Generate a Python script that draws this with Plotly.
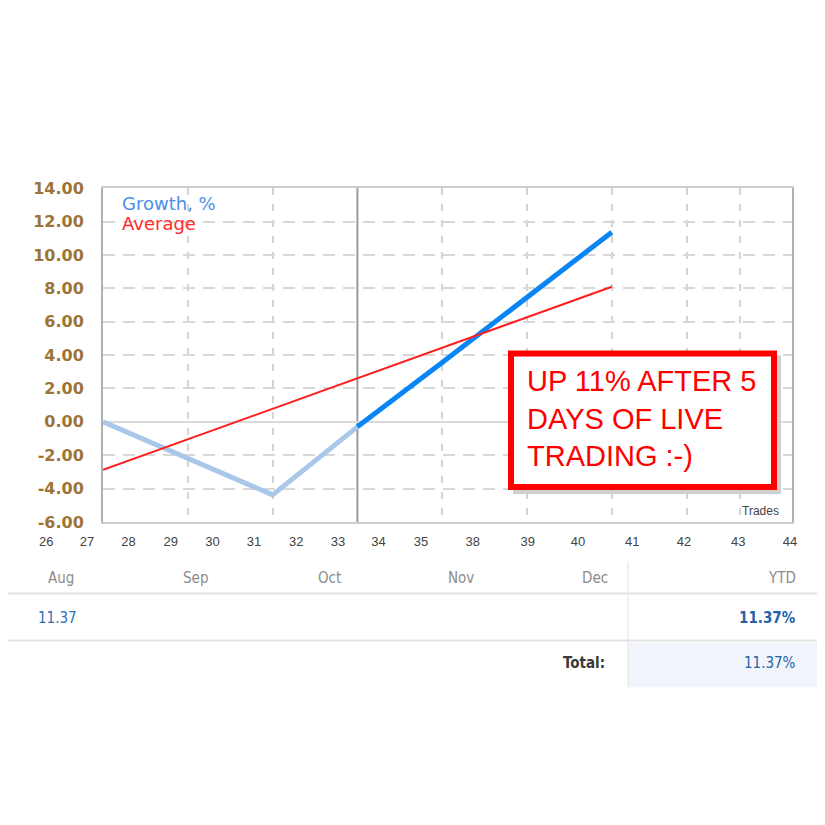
import plotly.graph_objects as go

# growth curve, x in trade steps
growth_x = [0, 2, 3, 4, 6]
growth_y = [0.0, -4.38, -0.3, 3.55, 11.37]
live_from = 2  # index where live trading starts

average_x = [0, 6]
average_y = [-2.88, 8.1]

y_ticks = [-6, -4, -2, 0, 2, 4, 6, 8, 10, 12, 14]
y_tick_labels = ["-6.00", "-4.00", "-2.00", "0.00", "2.00", "4.00",
                 "6.00", "8.00", "10.00", "12.00", "14.00"]

x_tick_labels = ["25", "26", "27", "28", "29", "30", "31", "32", "33",
                 "34", "35", "38", "39", "40", "41", "42", "43", "44"]

months = ["Aug", "Sep", "Oct", "Nov", "Dec"]
month_values = ["11.37", "", "", "", ""]
ytd_value = "11.37%"
total_value = "11.37%"

note_text = "UP 11% AFTER 5<br>DAYS OF LIVE<br>TRADING :-)"

# ---- layout helpers (screen pixel -> paper) ----
W = H = 825
OFF_X = 8          # page body margin
OFF_Y, SCALE_Y = 15, 0.981  # measured vertical placement of the page
STEP = 84.8  # px per trade step
LEFT, RIGHT, TOP, BOTTOM = 103, 792, 187, 522


def px(x):
    return (x - OFF_X) / W


def py(y):
    return 1 - (y - OFF_Y) / SCALE_Y / H


grid_x = [1, 2, 4, 5, 6, 6.89, 7.51]
label_pos = [-1.19, -0.67, -0.19, 0.30, 0.80, 1.29, 1.78, 2.28, 2.77,
             3.25, 3.75, 4.36, 5.01, 5.60, 6.24, 6.85, 7.49, 8.10]
month_px = [61, 195, 329, 461, 595]

fig = go.Figure()
fig.add_trace(go.Scatter(x=growth_x[:live_from + 1], y=growth_y[:live_from + 1],
                         mode="lines", line=dict(color="#a9c7e8", width=5),
                         hoverinfo="skip"))
fig.add_trace(go.Scatter(x=growth_x[live_from:], y=growth_y[live_from:],
                         mode="lines", line=dict(color="#0a86f4", width=5),
                         hoverinfo="skip"))
fig.add_trace(go.Scatter(x=average_x, y=average_y, mode="lines",
                         line=dict(color="#ff1e1e", width=2), hoverinfo="skip"))
# empty trace just to carry the wide label axis
fig.add_trace(go.Scatter(x=[], y=[], xaxis="x2", yaxis="y2", hoverinfo="skip"))

fig.update_layout(
    width=W, height=H,
    margin=dict(l=0, r=0, t=0, b=0),
    paper_bgcolor="white",
    plot_bgcolor="rgba(0,0,0,0)",
    showlegend=False,
    xaxis=dict(domain=[px(LEFT), px(RIGHT)], range=[0, (RIGHT - LEFT) / STEP],
               tickvals=grid_x, showticklabels=False, ticks="",
               showgrid=True, gridcolor="#d4d4d4", griddash="7px,9px", gridwidth=1.5,
               zeroline=False, showline=True, linecolor="#cccccc", linewidth=2,
               mirror=True),
    yaxis=dict(domain=[py(BOTTOM), py(TOP)], range=[-6, 14],
               tickvals=y_ticks, ticktext=y_tick_labels, ticks="",
               tickfont=dict(family="DejaVu Sans", size=16, color="#9c7437",
                             weight="bold"),
               ticklabelstandoff=14,
               showgrid=True, gridcolor="#d8d8d8", griddash="12px,8px", gridwidth=1.5,
               zeroline=True, zerolinecolor="#dadada", zerolinewidth=2,
               showline=True, linecolor="#b0b0b0", linewidth=2, mirror=True),
    xaxis2=dict(domain=[0, 1], anchor="y2",
                range=[(OFF_X - LEFT) / STEP, (W + OFF_X - LEFT) / STEP],
                tickvals=label_pos, ticktext=x_tick_labels, ticks="",
                ticklabelstandoff=10,
                tickfont=dict(family="Liberation Sans", size=13, color="#444444"),
                showgrid=False, zeroline=False, showline=False),
    yaxis2=dict(domain=[py(BOTTOM), py(TOP)], anchor="x2", range=[0, 1],
                visible=False),
)

# live trading separator
fig.add_shape(type="line", xref="x", yref="y domain",
              x0=growth_x[live_from], x1=growth_x[live_from], y0=0, y1=1,
              line=dict(color="#9a9a9a", width=2), layer="below")

# legend text
fig.add_annotation(x=px(120), y=py(202), xref="paper", yref="paper",
                   text="Growth, %", showarrow=False, xanchor="left", yanchor="middle",
                   font=dict(family="DejaVu Sans", size=18, color="#4a8fe8"))
fig.add_annotation(x=px(120), y=py(222), xref="paper", yref="paper",
                   text="Average", showarrow=False, xanchor="left", yanchor="middle",
                   font=dict(family="DejaVu Sans", size=18, color="#ff2a2a"))
fig.add_annotation(x=px(760), y=py(511), xref="paper", yref="paper",
                   text="Trades", showarrow=False, xanchor="center", yanchor="middle",
                   font=dict(family="Liberation Sans", size=12, color="#444444"))

# red note box
fig.add_shape(type="rect", xref="paper", yref="paper",
              x0=px(513), x1=px(781), y0=py(355), y1=py(494),
              fillcolor="#d0d0d0", line=dict(width=0), layer="above")
fig.add_shape(type="rect", xref="paper", yref="paper",
              x0=px(511), x1=px(774), y0=py(353), y1=py(487),
              fillcolor="white", line=dict(color="#ff0000", width=6), layer="above")
fig.add_annotation(x=px(525), y=py(418), xref="paper", yref="paper",
                   text=note_text, showarrow=False, xanchor="left", yanchor="middle",
                   align="left",
                   font=dict(family="Liberation Sans", size=29, color="#ff0000"))

# ---- table below ----
narrow = "Liberation Sans Narrow, DejaVu Sans Condensed, Arial Narrow, sans-serif"
fig.add_shape(type="rect", xref="paper", yref="paper",
              x0=px(628), x1=px(818), y0=py(643), y1=py(688),
              fillcolor="#f1f4fa", line=dict(width=0), layer="below")
for yy in (594, 641):
    fig.add_shape(type="line", xref="paper", yref="paper",
                  x0=0, x1=px(818), y0=py(yy), y1=py(yy),
                  line=dict(color="#e3e3e3", width=2))
fig.add_shape(type="line", xref="paper", yref="paper",
              x0=px(628), x1=px(628), y0=py(562), y1=py(688),
              line=dict(color="#e3e3e3", width=1))

for m, xm in zip(months, month_px):
    fig.add_annotation(x=px(xm), y=py(578), xref="paper", yref="paper", text=m,
                       showarrow=False, xanchor="center", yanchor="middle",
                       font=dict(family=narrow, size=15, color="#8c8c8c"))
fig.add_annotation(x=px(798), y=py(578), xref="paper", yref="paper", text="YTD",
                   showarrow=False, xanchor="right", yanchor="middle",
                   font=dict(family=narrow, size=15, color="#8c8c8c"))

for v, xm in zip(month_values, month_px):
    if v:
        fig.add_annotation(x=px(xm - 4), y=py(618), xref="paper", yref="paper", text=v,
                           showarrow=False, xanchor="center", yanchor="middle",
                           font=dict(family=narrow, size=15, color="#2f6fb5"))
fig.add_annotation(x=px(798), y=py(618), xref="paper", yref="paper",
                   text="<b>" + ytd_value + "</b>",
                   showarrow=False, xanchor="right", yanchor="middle",
                   font=dict(family=narrow, size=15, color="#2463a8"))
fig.add_annotation(x=px(607), y=py(664), xref="paper", yref="paper", text="<b>Total:</b>",
                   showarrow=False, xanchor="right", yanchor="middle",
                   font=dict(family=narrow, size=15, color="#3a3a3a"))
fig.add_annotation(x=px(798), y=py(664), xref="paper", yref="paper",
                   text=total_value,
                   showarrow=False, xanchor="right", yanchor="middle",
                   font=dict(family=narrow, size=15, color="#2463a8"))

fig.write_html("out.html")
